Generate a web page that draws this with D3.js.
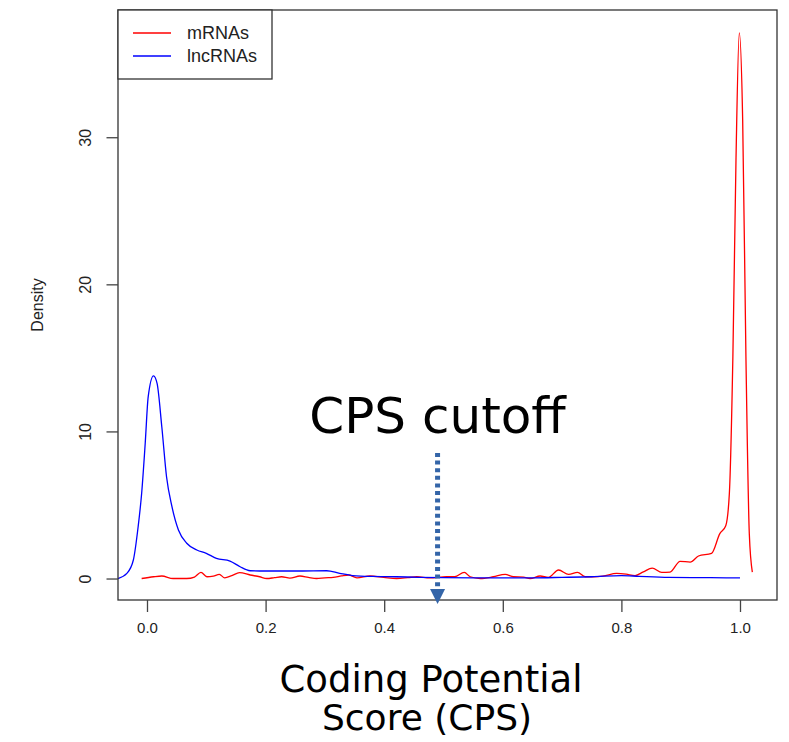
<!DOCTYPE html>
<html>
<head>
<meta charset="utf-8">
<script src="https://cdn.jsdelivr.net/npm/d3@7/dist/d3.min.js"></script>
<style>
  html, body { margin: 0; padding: 0; background: #fff; }
  svg { display: block; }
</style>
</head>
<body>
<div id="chart"></div>
<script>
// Kernel density estimates of the coding potential score (CPS)
const seriesNames = ["mRNAs", "lncRNAs"];
const seriesColors = ["#ff0000", "#0000ff"];

// mRNAs: score / density
const mrnaX = [-0.009, 0.011, 0.025, 0.044, 0.067, 0.08, 0.091, 0.101, 0.112, 0.122, 0.131, 0.143, 0.156, 0.174, 0.19, 0.202, 0.215, 0.227, 0.241, 0.258, 0.272, 0.286, 0.3, 0.314, 0.328, 0.34, 0.354, 0.376, 0.399, 0.421, 0.44, 0.455, 0.477, 0.505, 0.519, 0.535, 0.545, 0.562, 0.584, 0.604, 0.618, 0.635, 0.646, 0.663, 0.677, 0.694, 0.711, 0.726, 0.739, 0.753, 0.769, 0.792, 0.808, 0.823, 0.837, 0.852, 0.868, 0.882, 0.899, 0.916, 0.930, 0.952, 0.966, 0.976, 0.982, 0.988, 0.9933, 0.9988, 1.0045, 1.010, 1.0157, 1.0208];
const mrnaY = [0.0, 0.12, 0.17, 0.0, 0.0, 0.1, 0.42, 0.12, 0.17, 0.28, 0.05, 0.2, 0.4, 0.24, 0.12, 0.0, 0.06, 0.12, 0.03, 0.17, 0.08, 0.0, 0.05, 0.08, 0.18, 0.24, 0.05, 0.17, 0.08, 0.0, 0.06, 0.12, 0.05, 0.12, 0.12, 0.42, 0.12, 0.0, 0.12, 0.28, 0.12, 0.1, 0.0, 0.17, 0.08, 0.58, 0.28, 0.42, 0.12, 0.12, 0.17, 0.35, 0.3, 0.2, 0.45, 0.71, 0.42, 0.44, 1.17, 1.12, 1.53, 1.71, 3.05, 3.59, 5.74, 15.1, 28.6, 37.1, 31.2, 15.1, 3.05, 0.44];

// lncRNAs: score / density
const lncX = [-0.049, -0.034, -0.023, -0.015, -0.009, -0.003, 0.002, 0.011, 0.017, 0.025, 0.033, 0.042, 0.053, 0.067, 0.084, 0.10, 0.117, 0.14, 0.157, 0.174, 0.2, 0.258, 0.303, 0.325, 0.347, 0.38, 0.42, 0.46, 0.5, 0.55, 0.6, 0.65, 0.7, 0.75, 0.8, 0.83, 0.88, 0.95, 1.0];
const lncY = [0.0, 0.35, 1.26, 3.5, 5.8, 9.2, 12.35, 13.78, 13.26, 10.3, 6.9, 4.9, 3.3, 2.4, 1.94, 1.71, 1.37, 1.19, 0.8, 0.53, 0.51, 0.51, 0.53, 0.35, 0.2, 0.14, 0.12, 0.08, 0.06, 0.05, 0.05, 0.05, 0.08, 0.12, 0.2, 0.15, 0.08, 0.06, 0.04];

const xTicks = [0.0, 0.2, 0.4, 0.6, 0.8, 1.0];
const yTicks = [0, 10, 20, 30];
const cutoff = 0.49;

const W = 789, H = 742;
const box = { left: 118, right: 777, top: 10, bottom: 600 };
const rFont = "'Liberation Sans', Arial, Helvetica, sans-serif";
const bigFont = "'DejaVu Sans', Verdana, sans-serif";

const svg = d3.select("#chart").append("svg")
  .attr("width", W).attr("height", H)
  .style("background", "#fff");

const x = d3.scaleLinear().domain([-0.0489, 1.0624]).range([box.left, box.right]);
const y = d3.scaleLinear().domain([-1.46, 38.65]).range([box.bottom, box.top]);

// density curves
const line = d3.line().x(d => x(d[0])).y(d => y(d[1])).curve(d3.curveMonotoneX);
const series = [d3.zip(mrnaX, mrnaY), d3.zip(lncX, lncY)];
svg.append("g").selectAll("path").data(series).join("path")
  .attr("d", line)
  .attr("fill", "none")
  .attr("stroke", (d, i) => seriesColors[i])
  .attr("stroke-width", 1.3)
  .attr("stroke-linejoin", "round");

// plot frame
svg.append("rect")
  .attr("x", box.left).attr("y", box.top)
  .attr("width", box.right - box.left).attr("height", box.bottom - box.top)
  .attr("fill", "none").attr("stroke", "#333").attr("stroke-width", 1.3);

// x axis
const xAxis = svg.append("g")
  .attr("transform", `translate(0,${box.bottom})`)
  .call(d3.axisBottom(x).tickValues(xTicks).tickFormat(d3.format(".1f")).tickSize(12).tickPadding(10));
xAxis.select(".domain").remove();
xAxis.selectAll("line").attr("stroke", "#444").attr("stroke-width", 1.3);
xAxis.selectAll("text").attr("font-family", rFont).attr("font-size", 15).attr("fill", "#222");

// y axis
const yAxis = svg.append("g")
  .attr("transform", `translate(${box.left},0)`)
  .call(d3.axisLeft(y).tickValues(yTicks).tickSize(11.5).tickFormat(d3.format("d")));
yAxis.select(".domain").remove();
yAxis.selectAll("line").attr("stroke", "#444").attr("stroke-width", 1.3);
yAxis.selectAll("text")
  .attr("font-family", rFont).attr("font-size", 16).attr("fill", "#222")
  .attr("text-anchor", "middle").attr("dy", null).attr("x", null)
  .attr("transform", "translate(-31,0) rotate(-90)")
  .attr("y", 0).attr("dominant-baseline", "middle");

// y axis title
svg.append("text")
  .attr("transform", `translate(39,${(box.top + box.bottom) / 2}) rotate(-90)`)
  .attr("text-anchor", "middle").attr("dominant-baseline", "middle")
  .attr("font-family", rFont).attr("font-size", 16).attr("fill", "#222")
  .text("Density");

// legend
const leg = svg.append("g");
leg.append("rect")
  .attr("x", box.left).attr("y", box.top)
  .attr("width", 154).attr("height", 69)
  .attr("fill", "#fff").attr("stroke", "#333").attr("stroke-width", 1.3);
seriesNames.forEach((name, i) => {
  const ly = 33 + i * 23;
  leg.append("line")
    .attr("x1", 133).attr("x2", 171).attr("y1", ly).attr("y2", ly)
    .attr("stroke", seriesColors[i]).attr("stroke-width", 1.6);
  leg.append("text")
    .attr("x", 187).attr("y", ly + 6)
    .attr("font-family", rFont).attr("font-size", 18).attr("fill", "#222")
    .text(name);
});

// cutoff annotation
const arrowColor = "#3465a8";
const cx = x(cutoff);
svg.append("line")
  .attr("x1", cx).attr("x2", cx).attr("y1", 453).attr("y2", 589)
  .attr("stroke", arrowColor).attr("stroke-width", 5)
  .attr("stroke-dasharray", "4,3.6");
svg.append("path")
  .attr("d", `M${cx - 7.5},589 L${cx + 7.5},589 L${cx},604 Z`)
  .attr("fill", arrowColor);
svg.append("text")
  .attr("x", cx).attr("y", 433)
  .attr("text-anchor", "middle")
  .attr("font-family", bigFont).attr("font-size", 50).attr("fill", "#000")
  .text("CPS cutoff");

// x axis title
const xt = svg.append("text")
  .attr("text-anchor", "middle")
  .attr("font-family", bigFont).attr("font-size", 36).attr("fill", "#000");
xt.append("tspan").attr("x", 431).attr("y", 692).attr("font-size", 37).text("Coding Potential");
xt.append("tspan").attr("x", 427).attr("y", 730).text("Score (CPS)");
</script>
</body>
</html>
